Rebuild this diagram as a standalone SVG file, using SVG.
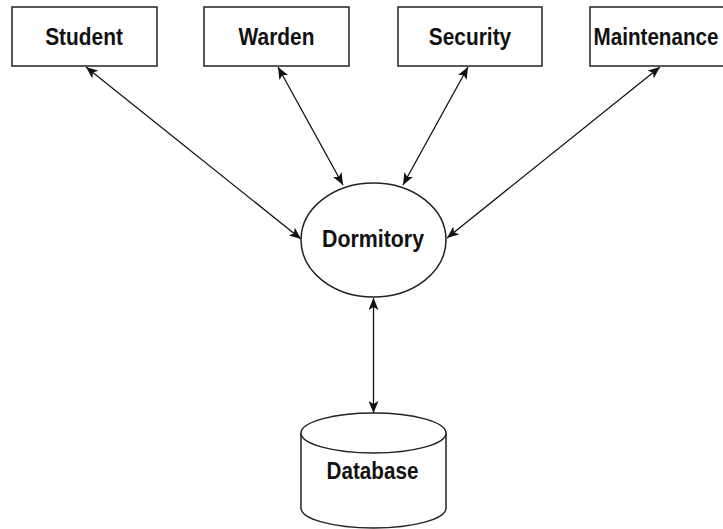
<svg xmlns="http://www.w3.org/2000/svg" width="723" height="529" viewBox="0 0 723 529">
<style>
.box{fill:#fff;stroke:#222;stroke-width:1.5}
.lbl{font-family:"Liberation Sans",Arial,sans-serif;font-weight:bold;font-size:24px;fill:#111;text-anchor:middle}
.edge{fill:none;stroke:#111;stroke-width:1.3;marker-start:url(#ah);marker-end:url(#ah)}
</style>
<defs>
<marker id="ah" viewBox="0 0 12 10" refX="12" refY="5" markerWidth="12" markerHeight="10" markerUnits="userSpaceOnUse" orient="auto-start-reverse">
<path d="M0,0 L12,5 L0,10 L3,5 Z" fill="#111"/>
</marker>
</defs>
<rect width="723" height="529" fill="#fff"/>
<g id="connectors">
<line class="edge" x1="86" y1="67" x2="301" y2="239"/>
<line class="edge" x1="278" y1="67" x2="343" y2="185"/>
<line class="edge" x1="468" y1="67" x2="403" y2="185"/>
<line class="edge" x1="660" y1="67" x2="447" y2="238"/>
<line class="edge" x1="373.5" y1="298" x2="373.5" y2="413"/>
</g>
<g id="student">
<rect class="box" x="12" y="7" width="145" height="59"/>
<text class="lbl" transform="translate(84,45) scale(0.87,1)">Student</text>
</g>
<g id="warden">
<rect class="box" x="204" y="7" width="145" height="59"/>
<text class="lbl" transform="translate(276.5,45) scale(0.87,1)">Warden</text>
</g>
<g id="security">
<rect class="box" x="398" y="7" width="144" height="59"/>
<text class="lbl" transform="translate(470,45) scale(0.87,1)">Security</text>
</g>
<g id="maintenance">
<rect class="box" x="590" y="7" width="145" height="59"/>
<text class="lbl" transform="translate(656,45) scale(0.86,1)">Maintenance</text>
</g>
<g id="dormitory">
<ellipse class="box" cx="373.5" cy="240" rx="72.5" ry="57"/>
<text class="lbl" transform="translate(373,247) scale(0.89,1)">Dormitory</text>
</g>
<g id="database">
<path class="box" d="M301,433 V508 A72.5,20 0 0 0 446,508 V433"/>
<ellipse class="box" cx="373.5" cy="433" rx="72.5" ry="20"/>
<text class="lbl" transform="translate(372.5,479) scale(0.86,1)">Database</text>
</g>
</svg>
